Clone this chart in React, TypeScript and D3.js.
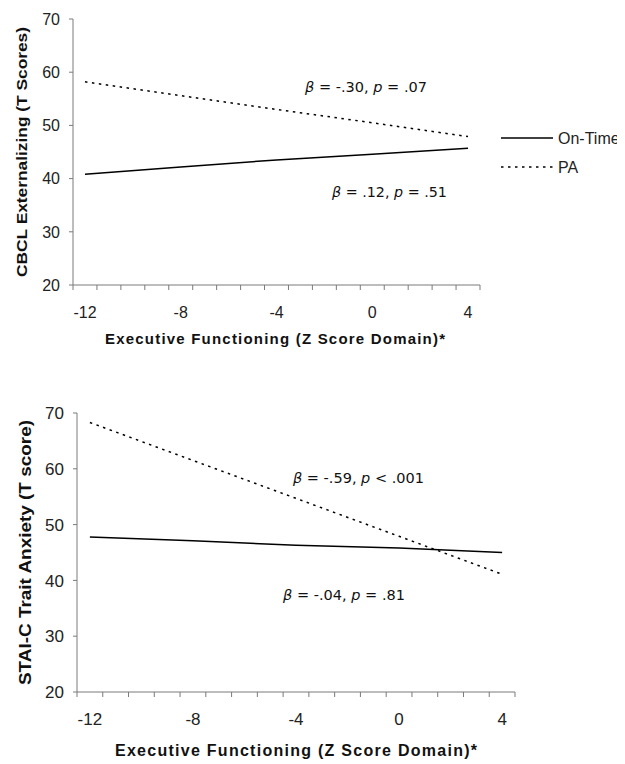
import React from "react";
import * as d3 from "d3";

// ---- data ----
const categories = d3.range(-12, 5); // -12 .. 4
const xTickLabels = [-12, -8, -4, 0, 4];
const yTicks = [20, 30, 40, 50, 60, 70];

const cbclX = [-12, -8, -4, 0, 4];
const cbclOnTime = [40.8, 42.2, 43.5, 44.6, 45.7];
const cbclPA = [58.2, 55.6, 53.0, 50.5, 47.9];

const staiX = [-12, -8, -4, 0, 4];
const staiOnTime = [47.8, 47.1, 46.3, 45.8, 45.0];
const staiPA = [68.3, 61.5, 54.7, 47.9, 41.1];

const seriesNames = ["On-Time", "PA"];

const SANS = "'Liberation Sans', Arial, sans-serif";
const VERD = "'DejaVu Sans', Verdana, sans-serif";
const AXIS = "#7a7a7a";
const TEXT = "#222";

type Ann = { beta: string; rel: string; pval: string; x: number; y: number; w: number };

function Panel(props: {
  x0: number; x1: number; yTop: number; yBot: number;
  xs: number[]; onTime: number[]; pa: number[];
  yLabel: string; yLabelX: number; yLabelLen: number; yLabelSize: number;
  tickSize: number; xTitleY: number; xTitleX: number; xTitleLen: number; xTitleSize: number;
  anns: Ann[];
}) {
  const p = props;
  const x = d3.scaleBand<number>().domain(categories).range([p.x0, p.x1]).padding(0);
  const y = d3.scaleLinear().domain([20, 70]).range([p.yBot, p.yTop]);
  const cx = (v: number) => (x(v) as number) + x.bandwidth() / 2;
  const line = d3.line<[number, number]>().x((d) => cx(d[0])).y((d) => y(d[1]));
  const onPts = p.xs.map((v, i) => [v, p.onTime[i]] as [number, number]);
  const paPts = p.xs.map((v, i) => [v, p.pa[i]] as [number, number]);
  const boundaries = categories.map((c) => x(c) as number).concat([p.x1]);
  return (
    <g>
      {/* y axis */}
      <line x1={p.x0} x2={p.x0} y1={p.yTop} y2={p.yBot} stroke={AXIS} strokeWidth={1} />
      {yTicks.map((t) => (
        <g key={"y" + t}>
          <line x1={p.x0 - 4} x2={p.x0} y1={y(t)} y2={y(t)} stroke={AXIS} />
          <text x={p.x0 - 13} y={y(t)} dy="0.36em" textAnchor="end" fontFamily={SANS} fontSize={p.tickSize} fill={TEXT}>{t}</text>
        </g>
      ))}
      {/* x axis */}
      <line x1={p.x0} x2={p.x1} y1={p.yBot} y2={p.yBot} stroke={AXIS} strokeWidth={1} />
      {boundaries.map((bx, i) => (
        <line key={"xt" + i} x1={bx} x2={bx} y1={p.yBot} y2={p.yBot + 5} stroke={AXIS} />
      ))}
      {xTickLabels.map((t) => (
        <text key={"xl" + t} x={cx(t)} y={p.yBot + 27} dy="0.36em" textAnchor="middle" fontFamily={SANS} fontSize={p.tickSize} fill={TEXT}>{t}</text>
      ))}
      {/* lines */}
      <path d={line(onPts) as string} fill="none" stroke="#000" strokeWidth={1.5} />
      <path d={line(paPts) as string} fill="none" stroke="#000" strokeWidth={1.5} strokeDasharray="2.5,4.5" />
      {/* annotations */}
      {p.anns.map((a, i) => (
        <text key={"a" + i} x={a.x} y={a.y} fontFamily={VERD} fontSize={14} fill="#111" textLength={a.w} lengthAdjust="spacingAndGlyphs">
          <tspan fontStyle="italic">β</tspan>
          <tspan>{" = " + a.beta + ", "}</tspan>
          <tspan fontStyle="italic">p</tspan>
          <tspan>{" " + a.rel + " " + a.pval}</tspan>
        </text>
      ))}
      {/* y label */}
      <text transform={`translate(${p.yLabelX},${(p.yTop + p.yBot) / 2}) rotate(-90)`} textAnchor="middle" dy="0.36em"
        fontFamily={SANS} fontWeight="bold" fontSize={p.yLabelSize} fill="#111" textLength={p.yLabelLen} lengthAdjust="spacingAndGlyphs">{p.yLabel}</text>
      {/* x title */}
      <text x={p.xTitleX} y={p.xTitleY} dy="0.36em" textAnchor="middle" fontFamily={SANS} fontWeight="bold" fontSize={p.xTitleSize}
        fill="#111" textLength={p.xTitleLen} lengthAdjust="spacing">Executive Functioning (Z Score Domain)*</text>
    </g>
  );
}

export default function App() {
  return (
    <svg width={609} height={760} style={{ display: "block", margin: "-8px 0 0 -8px" }} viewBox="0 0 609 760" overflow="visible">
      <g>
        <Panel x0={73} x1={480} yTop={19} yBot={285} xs={cbclX} onTime={cbclOnTime} pa={cbclPA}
          yLabel="CBCL Externalizing (T Scores)" yLabelX={22} yLabelLen={250} yLabelSize={15}
          tickSize={16} xTitleX={275} xTitleY={339} xTitleLen={340} xTitleSize={15}
          anns={[
            { beta: "-.30", rel: "=", pval: ".07", x: 305, y: 92, w: 122 },
            { beta: ".12", rel: "=", pval: ".51", x: 332, y: 197, w: 115 },
          ]} />
        {/* legend */}
        <line x1={501} x2={553} y1={138} y2={138} stroke="#000" strokeWidth={1.5} />
        <text x={558} y={138} dy="0.36em" fontFamily={SANS} fontSize={16} fill={TEXT}>{seriesNames[0]}</text>
        <line x1={501} x2={553} y1={167} y2={167} stroke="#000" strokeWidth={1.5} strokeDasharray="2.5,4.5" />
        <text x={558} y={167} dy="0.36em" fontFamily={SANS} fontSize={16} fill={TEXT}>{seriesNames[1]}</text>

        <Panel x0={77} x1={515} yTop={413} yBot={692} xs={staiX} onTime={staiOnTime} pa={staiPA}
          yLabel="STAI-C Trait Anxiety (T score)" yLabelX={25} yLabelLen={265} yLabelSize={16}
          tickSize={17} xTitleX={296} xTitleY={750} xTitleLen={362} xTitleSize={16}
          anns={[
            { beta: "-.59", rel: "<", pval: ".001", x: 293, y: 483, w: 131 },
            { beta: "-.04", rel: "=", pval: ".81", x: 283, y: 600, w: 122 },
          ]} />
      </g>
    </svg>
  );
}
